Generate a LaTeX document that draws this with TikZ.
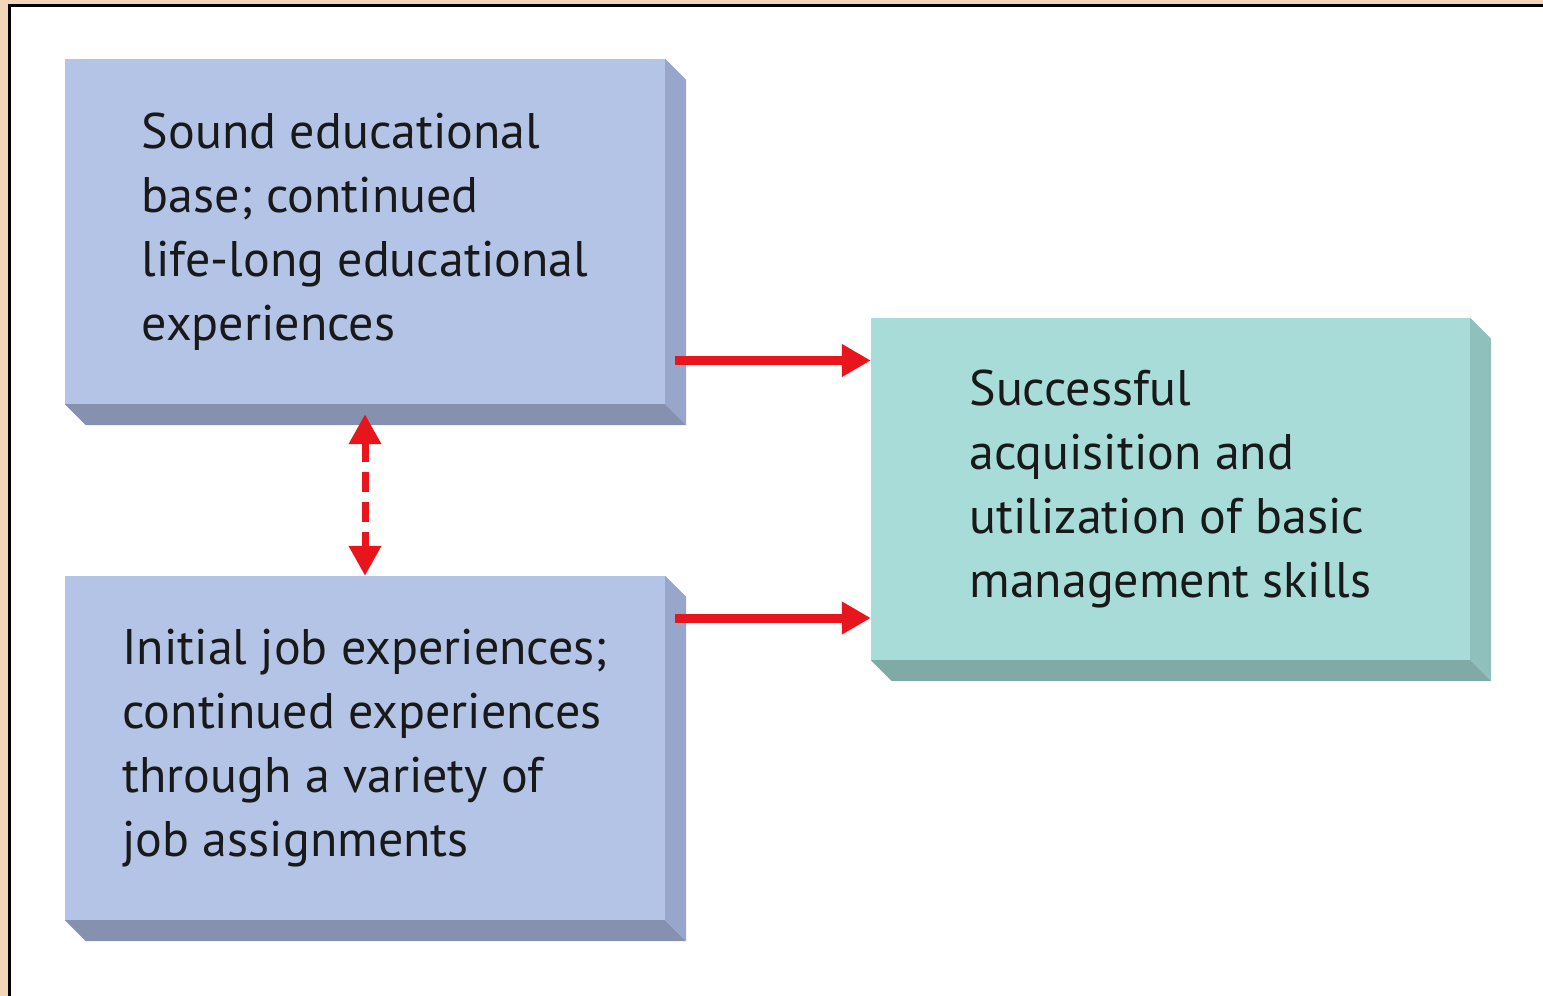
\documentclass[tikz,border=0pt]{standalone}
\usepackage{fontspec}
\setmainfont{PT Sans}
\usepackage{tikz}
\usetikzlibrary{calc,arrows.meta,positioning}
\definecolor{page}{HTML}{F2D6B8}
\definecolor{bluefront}{HTML}{B4C4E6}
\definecolor{blueside}{HTML}{98A6CB}
\definecolor{bluebottom}{HTML}{8591AF}
\definecolor{tealfront}{HTML}{A8DCD8}
\definecolor{tealside}{HTML}{8FC0BC}
\definecolor{tealbottom}{HTML}{7FAAA6}
\definecolor{arrowred}{HTML}{E8161C}

\begin{document}
\begin{tikzpicture}[x=1pt,y=-1pt,
    block/.style={minimum width=600pt,minimum height=345pt,inner sep=0pt,align=left,
      font=\fontsize{50}{64}\selectfont,text=black!90},
    flow/.style={draw=arrowred,line width=9pt,-{Triangle[length=29pt,width=31pt]}},
    twoway/.style={draw=arrowred,line width=7pt,dash pattern=on 20pt off 10pt,
      {Triangle[length=30pt,width=31pt]}-{Triangle[length=30pt,width=31pt]}}]

    \useasboundingbox (0,0) rectangle (1543,996);
    \fill[page] (0,0) rectangle (1543,996);
    \fill[white] (9.5,5.5) rectangle (1543,996);
    \draw[line width=3pt] (9.5,996) -- (9.5,5.5) -- (1543,5.5);

    \node (educ) at (365,231.5) [block,fill=bluefront] {Sound educational\\base; continued\\life-long educational\\experiences};
    \node (jobs) at (365,748) [block,minimum height=344pt,fill=bluefront] {Initial job experiences;\\continued experiences\\through a variety of\\job assignments};
    \node (skills) at (1170.5,489) [block,minimum width=599pt,minimum height=342pt,fill=tealfront] {Successful\\acquisition and\\utilization of basic\\management skills};

    % depth of the boxes
    \foreach \n/\s/\b in {educ/blueside/bluebottom,jobs/blueside/bluebottom,skills/tealside/tealbottom} {
      \fill[\s] (\n.north east) -- ++(21,21) -- ([shift={(21,21)}]\n.south east) -- (\n.south east) -- cycle;
      \fill[\b] (\n.south west) -- (\n.south east) -- ++(21,21) -- ([shift={(21,21)}]\n.south west) -- cycle;
    }

    \draw[flow] ([xshift=10pt,yshift=-129pt]educ.east) -- ([yshift=-129pt]educ.east -| skills.west);
    \draw[flow] ([xshift=10pt,yshift=130pt]jobs.east) -- ([yshift=130pt]jobs.east -| skills.west);
    \draw[twoway] ([yshift=-10pt]educ.south) -- (jobs.north);

\end{tikzpicture}
\end{document}
